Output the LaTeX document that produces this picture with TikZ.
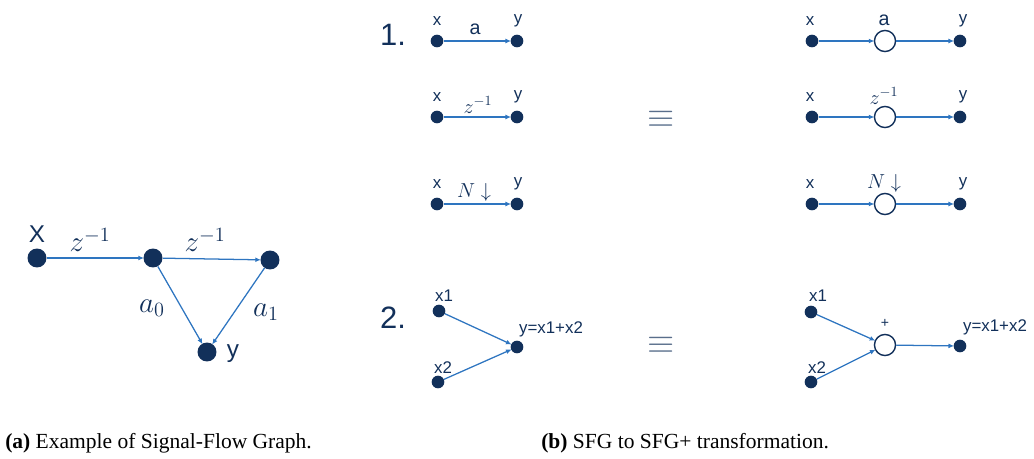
\documentclass[tikz,border=0pt]{standalone}
\usepackage{fontspec}
\usepackage{amsmath, amssymb}
\setmainfont{Liberation Serif}
\setsansfont{Liberation Sans}
\usetikzlibrary{arrows.meta}

\definecolor{navy}{HTML}{12305A}
\definecolor{flowblue}{HTML}{2E75C0}

\tikzset{
	dot/.style = {circle, fill=navy, inner sep=0pt, minimum size=9pt},
	bigdot/.style = {circle, fill=navy, inner sep=0pt, minimum size=13.5pt},
	sum/.style = {circle, draw=navy, line width=1pt, fill=white, inner sep=0pt, minimum size=15pt},
	flow/.style = {draw=flowblue, line width=0.9pt, -{Latex[length=4pt,width=3.5pt]}, shorten >=-0.5pt},
	lbl/.style = {text=navy, font=\sffamily\large, inner sep=0pt},
	gain/.style = {text=navy, font=\fontsize{14}{16}\selectfont, inner sep=0pt},
	biggain/.style = {text=navy, font=\fontsize{19.5}{22}\selectfont, inner sep=0pt},
	subcap/.style = {font=\fontsize{15.3}{18}\selectfont, inner sep=0pt, anchor=west}
}

\begin{document}
\begin{tikzpicture}[x=0.025cm, y=-0.025cm]
\useasboundingbox (0,0) rectangle (1034,459);

% (a) signal-flow graph
\node[bigdot] (gx) at (37,258) {};
\node[bigdot] (gm) at (153,258) {};
\node[bigdot] (gr) at (270,260) {};
\node[bigdot] (gy) at (207,352) {};
\draw[flow] (gx) -- (gm);
\draw[flow] (gm) -- (gr);
\draw[flow] (gm) -- (gy);
\draw[flow] (gr) -- (gy);
\node[lbl, font=\sffamily\LARGE] (gxl) at (37,234) {X};
\node[lbl, font=\sffamily\LARGE] (gyl) at (233,354) {y};
\node[biggain] (gz1) at (90,240) {$z^{-1}$};
\node[biggain] (gz2) at (205,240) {$z^{-1}$};
\node[biggain] (ga0) at (152,308) {$a_0$};
\node[biggain] (ga1) at (266,312) {$a_1$};

% (b) rule 1: gain on an edge -> gain node
\node[lbl, font=\sffamily\fontsize{22}{24}\selectfont] (one) at (393,35) {1.};
\foreach \n/\yy/\g/\gx in {1/41/\textsf{a}/475, 2/117/{$z^{-1}$}/478, 3/204/{$N\downarrow$}/474}{
	\node[dot] (lx\n) at (437,\yy) {};
	\node[dot] (ly\n) at (517,\yy) {};
	\draw[flow] (lx\n) -- (ly\n);
	\node[lbl] (lxl\n) at (437,\yy-20) {x};
	\node[lbl] (lyl\n) at (518,\yy-20) {y};
	\node[gain] (lg\n) at (\gx,\yy-12) {\g};

	\node[dot] (rx\n) at (812,\yy) {};
	\node[sum] (rs\n) at (885,\yy) {};
	\node[dot] (ry\n) at (960,\yy) {};
	\draw[flow] (rx\n) -- (rs\n);
	\draw[flow] (rs\n) -- (ry\n);
	\node[lbl] (rxl\n) at (810,\yy-20) {x};
	\node[lbl] (ryl\n) at (963,\yy-20) {y};
	\node[gain] (rg\n) at (884,\yy-21) {\g};
}
\node[text=navy!70, font=\fontsize{25}{28}\selectfont, inner sep=0pt] (eq1) at (661,119) {$\equiv$};

% (b) rule 2: implicit sum -> sum node
\node[lbl, font=\sffamily\fontsize{22}{24}\selectfont] (two) at (393,318) {2.};
\node[dot] (sx1) at (439,311) {};
\node[dot] (sx2) at (438,382) {};
\node[dot] (sy) at (517,347) {};
\draw[flow] (sx1) -- (sy);
\draw[flow] (sx2) -- (sy);
\node[lbl] (sx1l) at (444,296) {x1};
\node[lbl] (sx2l) at (443,368) {x2};
\node[lbl] (syl) at (551,329) {y=x1+x2};

\node[dot] (tx1) at (811,312) {};
\node[dot] (tx2) at (811,382) {};
\node[sum] (ts) at (885,345) {};
\node[dot] (ty) at (960,346) {};
\draw[flow] (tx1) -- (ts);
\draw[flow] (tx2) -- (ts);
\draw[flow] (ts) -- (ty);
\node[lbl] (tx1l) at (818,296) {x1};
\node[lbl] (tx2l) at (817,368) {x2};
\node[lbl, font=\sffamily] (tsl) at (885,323) {+};
\node[lbl] (tyl) at (995,327) {y=x1+x2};
\node[text=navy!70, font=\fontsize{25}{28}\selectfont, inner sep=0pt] (eq2) at (661,345) {$\equiv$};

% captions
\node[subcap] (capa) at (5,443) {\textbf{(a)} Example of Signal-Flow Graph.};
\node[subcap] (capb) at (541,443) {\textbf{(b)} SFG to SFG+ transformation.};
\end{tikzpicture}
\end{document}
